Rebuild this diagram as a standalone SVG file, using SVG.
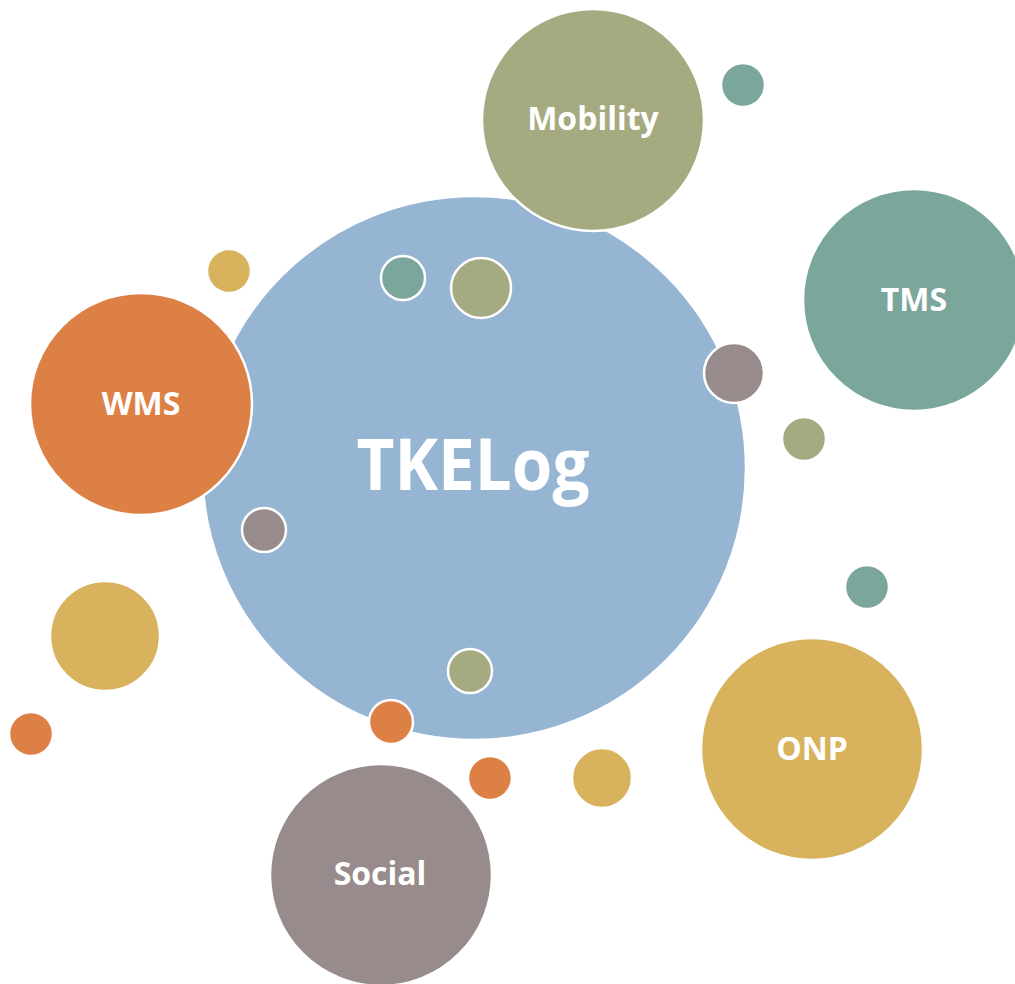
<svg xmlns="http://www.w3.org/2000/svg" width="1015" height="984" viewBox="0 0 1015 984">
<style>
circle{stroke:#fff;stroke-width:2.5}
.blue{fill:#95B5D3}.olive{fill:#A5AA80}.teal{fill:#7BA69C}.orange{fill:#DD8046}.gold{fill:#D8B25C}.gray{fill:#978C8B}
text{fill:#fff;font-family:"Open Sans","Liberation Sans",sans-serif;font-weight:bold;text-anchor:middle}
.lbl{font-size:32px}
.main{font-size:71px}
</style>
<rect width="1015" height="984" fill="#fff"/>
<g id="connectors"></g>
<g id="tkelog"><circle class="blue" cx="474" cy="468" r="272"/><text class="main" x="473" y="490" textLength="233" lengthAdjust="spacingAndGlyphs">TKELog</text></g>
<g id="mobility"><circle class="olive" cx="593" cy="120" r="111"/><text class="lbl" x="593" y="130">Mobility</text></g>
<g id="tms"><circle class="teal" cx="914" cy="300" r="111"/><text class="lbl" x="914" y="311">TMS</text></g>
<g id="wms"><circle class="orange" cx="141" cy="404" r="111"/><text class="lbl" x="141" y="415">WMS</text></g>
<g id="onp"><circle class="gold" cx="812" cy="749" r="111"/><text class="lbl" x="812" y="760">ONP</text></g>
<g id="social"><circle class="gray" cx="381" cy="875" r="111"/><text class="lbl" x="380" y="885">Social</text></g>
<g id="dots">
<circle class="teal" cx="743" cy="85" r="22"/>
<circle class="gold" cx="229" cy="271" r="22"/>
<circle class="teal" cx="403" cy="278" r="22"/>
<circle class="olive" cx="481" cy="288" r="30"/>
<circle class="gray" cx="734" cy="373" r="30"/>
<circle class="olive" cx="804" cy="439" r="22"/>
<circle class="gray" cx="264" cy="530" r="22"/>
<circle class="teal" cx="867" cy="587" r="22"/>
<circle class="gold" cx="105" cy="636" r="55"/>
<circle class="olive" cx="470" cy="671" r="22"/>
<circle class="orange" cx="391" cy="722" r="22"/>
<circle class="orange" cx="31" cy="734" r="22"/>
<circle class="orange" cx="490" cy="778" r="22"/>
<circle class="gold" cx="602" cy="778" r="30"/>
</g>
</svg>
